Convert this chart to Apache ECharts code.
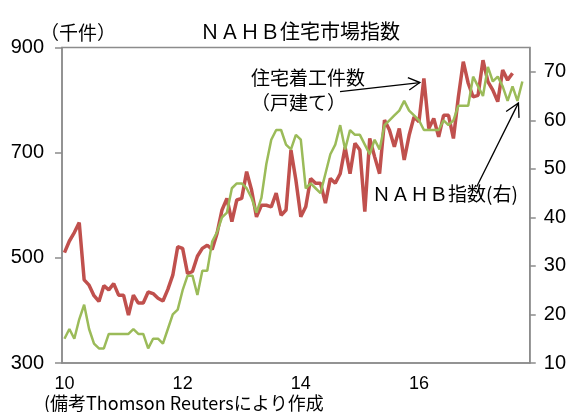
<!DOCTYPE html>
<html><head><meta charset="utf-8">
<script src="https://cdn.jsdelivr.net/npm/echarts@6/dist/echarts.min.js"></script>
<style>html,body{margin:0;padding:0;background:#fff}#c{width:569px;height:412px}</style>
</head><body><div id="c"></div>
<script>
// ---- data ----
const startYear = 2010;
const monthCount = 95; // Jan 2010 .. Nov 2017
const xTickLabels = {0: '10', 24: '12', 48: '14', 72: '16'};
const leftTicks = [300, 500, 700, 900];
const rightTicks = [10, 20, 30, 40, 50, 60, 70];

// 住宅着工件数（戸建て）, thousand units, left axis
const housingStarts = [
  510,532,548,567,458,448,428,417,447,439,451,429,
  429,391,429,414,414,435,432,423,418,440,467,521,
  518,470,474,503,518,524,516,547,591,613,569,610,
  613,664,629,578,600,600,597,623,581,591,705,648,
  578,597,651,642,642,604,651,642,660,710,660,718,
  705,588,727,692,660,762,743,711,746,686,733,768,
  759,841,746,765,730,771,771,727,806,873,832,806,
  809,876,835,819,797,857,838,851
];
// NAHB住宅市場指数, right axis
const nahbIndex = [
  15,17,15,19,22,17,14,13,13,16,16,16,
  16,16,17,16,16,13,15,15,14,17,20,21,
  25,28,28,24,29,29,35,37,40,41,46,47,
  47,46,44,41,44,51,56,58,58,55,54,57,
  56,46,47,46,45,49,53,55,59,54,58,57,
  57,55,53,56,54,59,60,61,62,64,62,61,
  60,58,58,58,58,60,59,60,63,63,63,69,
  67,65,71,68,69,67,64,67,64,68
];

const categories = [];
for (let i = 0; i < monthCount; i++) {
  const y = startYear + Math.floor(i / 12), m = i % 12 + 1;
  categories.push(y + '-' + (m < 10 ? '0' + m : m));
}

const AX = '#8c8c8c';
const NUM_FONT = 'Liberation Sans';
const JP_FONT = 'Noto Sans CJK JP';

const chart = echarts.init(document.getElementById('c'), null, {renderer: 'canvas'});
const option = {
  animation: false,
  backgroundColor: '#fff',
  grid: {left: 62, right: 39, top: 47.5, bottom: 49, show: true, borderColor: AX, borderWidth: 1.5, backgroundColor: 'transparent'},
  xAxis: {
    type: 'category', data: categories, boundaryGap: true,
    axisLine: {show: true, lineStyle: {color: AX, width: 1.5}},
    axisTick: {show: false},
    splitLine: {show: false},
    axisLabel: {
      interval: (i) => xTickLabels[i] !== undefined,
      formatter: (v, i) => xTickLabels[i] || '',
      color: '#000', fontFamily: NUM_FONT, fontSize: 18, margin: 12
    }
  },
  yAxis: [
    {
      type: 'value', position: 'left', min: leftTicks[0], max: leftTicks[leftTicks.length - 1], interval: 200,
      axisLine: {show: true, lineStyle: {color: AX, width: 1.5}},
      axisTick: {show: true, length: 7, lineStyle: {color: AX, width: 1.5}},
      splitLine: {show: false},
      axisLabel: {color: '#000', fontFamily: NUM_FONT, fontSize: 20, margin: 18}
    },
    {
      type: 'value', position: 'right', min: 10, max: 75, interval: 10,
      axisLine: {show: true, lineStyle: {color: AX, width: 1.5}},
      axisTick: {show: true, length: 6, customValues: rightTicks, lineStyle: {color: AX, width: 1.5}},
      splitLine: {show: false},
      axisLabel: {customValues: rightTicks, color: '#000', fontFamily: NUM_FONT, fontSize: 20, margin: 14}
    }
  ],
  series: [
    {name: '住宅着工件数（戸建て）', type: 'line', yAxisIndex: 0, data: housingStarts, showSymbol: false, symbol: 'none',
     lineStyle: {color: '#c0504d', width: 3.5}, itemStyle: {color: '#c0504d'}, z: 2},
    {name: 'ＮＡＨＢ指数(右)', type: 'line', yAxisIndex: 1, data: nahbIndex, showSymbol: false, symbol: 'none',
     lineStyle: {color: '#9bbb59', width: 2.5}, itemStyle: {color: '#9bbb59'}, z: 3}
  ]
};
chart.setOption(option);

function txt(text, x, y, size, align) {
  return {type: 'text', x: x, y: y, z: 10,
    style: {text: text, font: size + 'px "' + JP_FONT + '"', fill: '#000',
      align: align || 'left', verticalAlign: 'middle', textAlign: align || 'left', textVerticalAlign: 'middle'}};
}
function arrow(tail, tip, len, ang) {
  const dx = tip[0] - tail[0], dy = tip[1] - tail[1], d = Math.hypot(dx, dy);
  const bx = -dx / d, by = -dy / d;
  const r = a => [tip[0] + len * (bx * Math.cos(a) - by * Math.sin(a)), tip[1] + len * (bx * Math.sin(a) + by * Math.cos(a))];
  return [
    {type: 'line', z: 10, shape: {x1: tail[0], y1: tail[1], x2: tip[0], y2: tip[1]}, style: {stroke: '#000', lineWidth: 1.3}},
    {type: 'polyline', z: 10, shape: {points: [r(ang), tip, r(-ang)]}, style: {stroke: '#000', lineWidth: 1.3, fill: null}}
  ];
}

const redPeak = chart.convertToPixel({xAxisIndex: 0, yAxisIndex: 0}, [73, housingStarts[73]]);
const greenDip = chart.convertToPixel({xAxisIndex: 0, yAxisIndex: 1}, [92, nahbIndex[92]]);
const tip1 = [redPeak[0] - 4, redPeak[1] + 4];
const tip2 = [greenDip[0] + 1, greenDip[1] + 2];

chart.setOption({
  graphic: [
    txt('ＮＡＨＢ住宅市場指数', 300, 31, 20, 'center'),
    txt('（千件）', 40, 33, 19, 'left'),
    txt('住宅着工件数', 251, 78, 19, 'left'),
    txt('（戸建て）', 251, 103, 19, 'left'),
    txt('ＮＡＨＢ指数(右)', 372, 194, 19, 'left'),
    txt('(備考Thomson Reutersにより作成', 44, 403, 18, 'left'),
    ...arrow([340, 91.7], tip1, 13, 0.5),
    ...arrow([476.7, 186.7], tip2, 15, 0.5)
  ]
});
</script>
</body></html>
